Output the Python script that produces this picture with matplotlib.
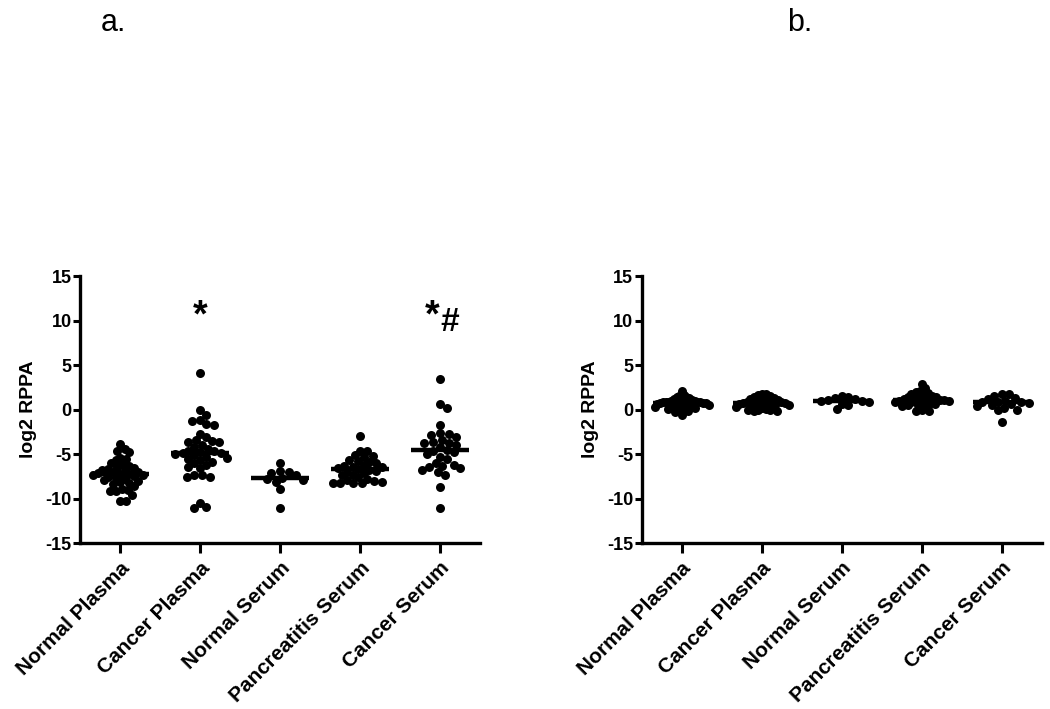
import numpy as np
import matplotlib
matplotlib.use("Agg")
import matplotlib.pyplot as plt

plt.rcParams['font.family'] = ['Liberation Sans', 'DejaVu Sans']

groups = ['Normal Plasma', 'Cancer Plasma', 'Normal Serum', 'Pancreatitis Serum', 'Cancer Serum']

# panel a values (log2 RPPA)
a_normal_plasma = [-3.9, -4.4, -4.6, -4.8, -5.4, -5.6, -5.7, -6.0, -6.2, -6.3, -6.5, -6.6, -6.7,
                   -6.8, -6.9, -7.0, -7.0, -7.1, -7.2, -7.2, -7.3, -7.4, -7.5, -7.6, -7.7, -7.8,
                   -7.9, -8.0, -8.1, -8.2, -8.4, -8.6, -8.9, -9.0, -9.1, -9.2, -9.6, -10.3, -10.3]
a_cancer_plasma = [4.1, 0.0, -0.6, -1.2, -1.3, -1.6, -1.7, -2.7, -3.1, -3.4, -3.5, -3.6, -3.6,
                   -4.0, -4.2, -4.4, -4.6, -4.7, -4.8, -4.9, -4.9, -5.0, -5.1, -5.3, -5.4, -5.5,
                   -5.7, -5.9, -6.0, -6.2, -6.4, -6.6, -7.4, -7.4, -7.6, -7.6, -10.5, -10.9, -11.1]
a_normal_serum = [-6.0, -6.9, -7.0, -7.1, -7.3, -7.7, -7.8, -7.9, -8.1, -8.9, -11.1]
a_pancreatitis_serum = [-3.0, -4.6, -4.6, -5.1, -5.2, -5.3, -5.7, -5.8, -5.9, -6.0, -6.2, -6.3,
                        -6.4, -6.5, -6.6, -6.7, -6.8, -6.9, -7.0, -7.1, -7.3, -7.4, -7.6, -7.8,
                        -7.9, -8.0, -8.1, -8.2, -8.2, -8.3, -8.3]
a_cancer_serum = [3.4, 0.6, 0.2, -1.7, -2.6, -2.7, -2.8, -3.1, -3.4, -3.6, -3.7, -3.8, -4.0,
                  -4.2, -4.5, -4.6, -4.8, -5.0, -5.3, -5.6, -6.0, -6.2, -6.3, -6.4, -6.6, -6.8,
                  -7.0, -7.4, -8.7, -11.1]

# panel b values
b_normal_plasma = [2.1, 1.6, 1.5, 1.4, 1.4, 1.3, 1.2, 1.2, 1.1, 1.0, 1.0, 0.9, 0.9, 0.9, 0.8,
                   0.8, 0.8, 0.7, 0.7, 0.7, 0.7, 0.6, 0.6, 0.6, 0.5, 0.5, 0.4, 0.4, 0.3, 0.3,
                   0.2, 0.2, 0.1, 0.0, 0.0, -0.1, -0.2, -0.3, -0.6]
b_cancer_plasma = [1.8, 1.7, 1.6, 1.5, 1.4, 1.3, 1.2, 1.1, 1.0, 0.9, 0.9, 0.8, 0.8, 0.7, 0.7,
                   0.7, 0.6, 0.6, 0.5, 0.5, 0.4, 0.3, 0.2, 0.1, 0.0, 0.0, -0.1, -0.2, -0.2]
b_normal_serum = [1.5, 1.4, 1.3, 1.2, 1.1, 1.0, 1.0, 0.8, 0.6, 0.5, 0.1]
b_pancreatitis_serum = [2.9, 2.4, 2.1, 2.0, 1.9, 1.8, 1.6, 1.5, 1.4, 1.4, 1.3, 1.2, 1.2, 1.1,
                        1.1, 1.1, 1.0, 1.0, 0.9, 0.9, 0.8, 0.7, 0.6, 0.5, 0.5, 0.4, 0.3, 0.0,
                        -0.2, -0.2]
b_cancer_serum = [1.7, 1.7, 1.5, 1.3, 1.2, 1.0, 0.9, 0.8, 0.8, 0.7, 0.6, 0.5, 0.4, 0.2, 0.0,
                  -0.1, -1.4]

panel_a = [a_normal_plasma, a_cancer_plasma, a_normal_serum, a_pancreatitis_serum, a_cancer_serum]
panel_b = [b_normal_plasma, b_cancer_plasma, b_normal_serum, b_pancreatitis_serum, b_cancer_serum]

DOT_PX = 9.0      # dot diameter in pixels
MAX_OFF_PX = 27.0  # 点群最大半宽
DPI = 100


def swarm_offsets(ax, values):
    """简单的蜂群排列: 返回每个点的水平偏移 (像素)"""
    pts = ax.transData.transform(np.column_stack([np.zeros(len(values)), values]))
    ys = pts[:, 1]
    order = np.argsort(-np.asarray(values))
    placed = []
    offs = np.zeros(len(values))
    step = DOT_PX / 4.0
    min_d = DOT_PX * 0.8
    for i in order:
        y = ys[i]
        k = 0
        while True:
            cands = [0.0] if k == 0 else [k * step, -k * step]
            done = False
            for c in cands:
                ok = all((c - px) ** 2 + (y - py) ** 2 >= min_d ** 2 for px, py in placed)
                if ok:
                    offs[i] = c
                    placed.append((c, y))
                    done = True
                    break
            if done:
                break
            k += 1
    # 太宽时压缩 (Prism 风格, 点可重叠)
    m = np.abs(offs).max()
    if m > MAX_OFF_PX:
        offs = offs * MAX_OFF_PX / m
    return offs


def draw_panel(ax, data):
    ax.set_xlim(-0.5, 4.5)
    ax.set_ylim(-15, 15)
    fig = ax.figure
    fig.canvas.draw()
    px_per_cat = ax.transData.transform((1, 0))[0] - ax.transData.transform((0, 0))[0]
    ms = DOT_PX * 72.0 / DPI
    for i, vals in enumerate(data):
        offs = swarm_offsets(ax, vals) / px_per_cat
        ax.plot(i + offs, vals, 'o', color='black', markersize=ms, markeredgewidth=0,
                clip_on=False, zorder=3)
        med = np.median(vals)
        ax.plot([i - 0.36, i + 0.36], [med, med], color='black', lw=3.2,
                solid_capstyle='butt', zorder=4)

    for s in ['top', 'right']:
        ax.spines[s].set_visible(False)
    for s in ['left', 'bottom']:
        ax.spines[s].set_linewidth(2.4)
        ax.spines[s].set_capstyle('projecting')
    ax.set_yticks([-15, -10, -5, 0, 5, 10, 15])
    ax.set_yticklabels(['-15', '-10', '-5', '0', '5', '10', '15'],
                       fontsize=13, fontweight='bold')
    ax.set_xticks(range(len(groups)))
    ax.set_xticklabels(groups, rotation=45, ha='right', rotation_mode='anchor',
                       fontsize=15, fontweight='bold')
    ax.tick_params(axis='y', direction='out', length=5, width=2.2, pad=1)
    ax.tick_params(axis='x', direction='out', length=7, width=2.2, pad=4)
    ax.set_ylabel('log2 RPPA', fontsize=14, fontweight='bold', labelpad=6)


fig = plt.figure(figsize=(10.5, 7.09), dpi=DPI)
ax_a = fig.add_axes([0.0762, 0.234, 0.381, 0.3766])
ax_b = fig.add_axes([0.611, 0.234, 0.381, 0.3766])

draw_panel(ax_a, panel_a)
draw_panel(ax_b, panel_b)

# 显著性标记
ax_a.text(1, 10.5, '*', ha='center', va='center', fontsize=27, fontweight='bold')
ax_a.text(3.9, 10.5, '*', ha='center', va='center', fontsize=27, fontweight='bold')
ax_a.text(4.12, 9.8, '#', ha='center', va='center', fontsize=24, fontweight='bold')

fig.text(0.108, 0.968, 'a.', ha='center', va='center', fontsize=22)
fig.text(0.762, 0.968, 'b.', ha='center', va='center', fontsize=22)

fig.savefig('out.png', dpi=DPI)
